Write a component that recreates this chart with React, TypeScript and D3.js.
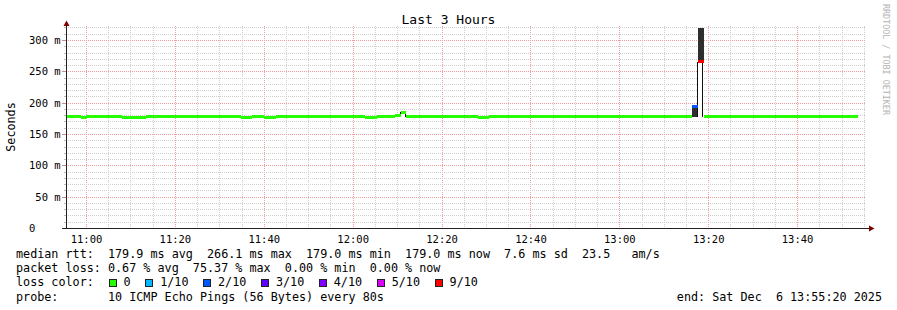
import React from "react";
import * as d3 from "d3";

const W = 897;
const H = 310;
const DAY = "2025-12-06 ";
const START = "10:55:20";
const END = "13:55:20";

const xTickLabels = ["11:00", "11:20", "11:40", "12:00", "12:20", "12:40", "13:00", "13:20", "13:40"];
const yTickValues = [0, 50, 100, 150, 200, 250, 300];
const yTickLabels = ["0", " 50 m", "100 m", "150 m", "200 m", "250 m", "300 m"];

// median rtt (ms) as a step series: each value holds from its time until the next time
const medianTimes = [
  "10:55:20", "10:58:40", "11:00:00", "11:08:00", "11:13:20", "11:34:40", "11:37:20",
  "11:40:00", "11:42:40", "12:02:40", "12:05:20", "12:09:20", "12:10:40", "12:12:00",
  "12:28:00", "12:30:40", "13:16:10", "13:17:30", "13:18:50", "13:53:30",
];
const medianValues = [
  179.3, 177.8, 179.3, 177.8, 179.3, 177.8, 179.3,
  177.8, 179.3, 177.8, 179.3, 180.5, 185.1, 179.3,
  177.8, 179.3, 194.7, 266.1, 179.3, NaN,
];
// lost pings out of 10 for each step
const medianLoss = [0, 0, 0, 0, 0, 0, 0, 0, 0, 0, 0, 0, 0, 0, 0, 0, 2, 9, 0, 0];

// smoke (ping spread) boxes
const smokeStart = ["13:16:10", "13:17:30"];
const smokeEnd = ["13:17:30", "13:18:50"];
const smokeLow = [178.2, 266.1];
const smokeHigh = [197.0, 320.4];

// outlined bands under the median spikes
const bandStart = ["12:10:40", "13:17:30"];
const bandEnd = ["12:12:00", "13:18:50"];
const bandLow = [177.9, 177.9];
const bandHigh = [186.5, 266.1];

const lossLabels = ["0", "1/10", "2/10", "3/10", "4/10", "5/10", "9/10"];
const lossColors = ["#26ff00", "#00b8ff", "#0059ff", "#5e00ff", "#7e00ff", "#dd00ff", "#ff0000"];
const lossIndex = [0, 1, 2, 3, 4, 5, 9];

const legendRows = [
  "median rtt:  179.9 ms avg  266.1 ms max  179.0 ms min  179.0 ms now  7.6 ms sd  23.5   am/s",
  "packet loss: 0.67 % avg  75.37 % max  0.00 % min  0.00 % now",
  "loss color:",
  "probe:       10 ICMP Echo Pings (56 Bytes) every 80s",
];
const endLabel = "end: Sat Dec  6 13:55:20 2025";
const title = "Last 3 Hours";
const yTitle = "Seconds";
const watermark = "RRDTOOL / TOBI OETIKER";

const parse = d3.utcParse("%Y-%m-%d %H:%M:%S");
const T = (s: string) => parse(DAY + s) as Date;

const MONO = "'DejaVu Sans Mono', monospace";
const px = (v: number) => Math.floor(v) + 0.5;

export default function App() {
  const x = d3.scaleUtc().domain([T(START), T(END)]).range([65.75, 865.75]);
  const y = d3.scaleLinear().domain([0, 300]).range([228.5, 40.5]);
  const plotTop = 26;
  const plotLeft = 66;
  const plotRight = 866;
  const axisY = 228.5;
  const axisX = 66.5;

  const colorForLoss = (l: number) => {
    let c = lossColors[0];
    lossIndex.forEach((li, i) => {
      if (l >= li) c = lossColors[i];
    });
    return c;
  };

  const minorTimes = d3.utcMinute.every(5)!.range(T(START), T(END));
  const hVals = d3.range(10, 330, 10);
  const xTickDates = xTickLabels.map((s) => T(s + ":00"));

  const fmtMin = d3.utcFormat("%M");

  const cw = 7.07;
  const rowY = [258, 272.2, 286.4, 300.6];
  let sx = 108.5;
  const swatches = lossLabels.map((lab, i) => {
    const cur = sx;
    sx = sx + 15 + lab.length * cw + 14.6;
    return { lab, color: lossColors[i], x: cur };
  });

  return (
    <svg width={W} height={H} style={{ display: "block", position: "absolute", left: 0, top: 0, background: "#fff" }}>
      <rect x={0} y={0} width={W} height={H} fill="#fff" />
      {/* minor vertical grid */}
      {minorTimes.map((t, i) => {
        const major = +fmtMin(t) % 20 === 0;
        return (
          <line key={"v" + i} x1={px(x(t))} x2={px(x(t))} y1={plotTop} y2={axisY}
            stroke={major ? "#f29c9c" : "#cfcfcf"} strokeDasharray="1,1" shapeRendering="crispEdges" />
        );
      })}
      {/* horizontal grid */}
      {hVals.map((v, i) => {
        const major = v % 50 === 0;
        const yy = Math.round(y(v) - 0.5) + 0.5;
        return (
          <g key={"h" + i}>
            <line x1={plotLeft} x2={plotRight} y1={yy} y2={yy}
              stroke={major ? "#f29c9c" : "#cfcfcf"} strokeDasharray="1,1" shapeRendering="crispEdges" />
            <line x1={major ? 62 : 64} x2={66} y1={yy} y2={yy}
              stroke={major ? "#e08080" : "#bdbdbd"} shapeRendering="crispEdges" />
          </g>
        );
      })}

      {/* smoke */}
      {smokeStart.map((s, i) => (
        <rect key={"s" + i} x={x(T(s))} width={x(T(smokeEnd[i])) - x(T(s))}
          y={y(smokeHigh[i])} height={y(smokeLow[i]) - y(smokeHigh[i])}
          fill="#2e2e2e" shapeRendering="crispEdges" />
      ))}
      {/* bands */}
      {bandStart.map((s, i) => {
        const x1 = x(T(s));
        const x2 = x(T(bandEnd[i]));
        const y1 = y(bandHigh[i]);
        const y2 = y(bandLow[i]);
        return (
          <g key={"b" + i}>
            <rect x={x1} width={x2 - x1} y={y1} height={y2 - y1} fill="#fff" shapeRendering="crispEdges" />
            <line x1={px(x1)} x2={px(x1)} y1={y1} y2={y2} stroke="#111" shapeRendering="crispEdges" />
            <line x1={px(x2) - 1} x2={px(x2) - 1} y1={y1} y2={y2} stroke="#111" shapeRendering="crispEdges" />
          </g>
        );
      })}
      {/* median line segments */}
      {medianTimes.slice(0, -1).map((s, i) => {
        const v = medianValues[i];
        if (!isFinite(v)) return null;
        const x1 = x(T(s));
        const x2 = x(T(medianTimes[i + 1]));
        return (
          <line key={"m" + i} x1={x1} x2={x2} y1={y(v)} y2={y(v)}
            stroke={colorForLoss(medianLoss[i])} strokeWidth={3} shapeRendering="crispEdges" />
        );
      })}

      {/* axes */}
      <line x1={axisX} x2={axisX} y1={axisY} y2={plotTop - 1} stroke="#222" shapeRendering="crispEdges" />
      <line x1={62} x2={869} y1={axisY} y2={axisY} stroke="#222" shapeRendering="crispEdges" />
      <path d={`M${axisX - 3},${plotTop} L${axisX + 3},${plotTop} L${axisX},${plotTop - 5.5} Z`} fill="#7f0000" />
      <path d={`M869,${axisY - 3} L869,${axisY + 3} L874.5,${axisY} Z`} fill="#7f0000" />

      {/* y labels */}
      {yTickValues.map((v, i) => (
        <text key={"yl" + i} x={29} y={Math.round(y(v) - 0.5) + 0.5 + 3.8} fontFamily={MONO} fontSize={10.5}
          fill="#000" style={{ whiteSpace: "pre" }}>{yTickLabels[i]}</text>
      ))}
      {/* x labels */}
      {xTickDates.map((t, i) => (
        <text key={"xl" + i} x={x(t)} y={243} fontFamily={MONO} fontSize={10.5} textAnchor="middle" fill="#000">
          {xTickLabels[i]}
        </text>
      ))}

      {/* title */}
      <text x={448.5} y={24} fontFamily={MONO} fontSize={13} textAnchor="middle" fill="#000">{title}</text>
      <text transform="translate(15,127) rotate(-90)" fontFamily={MONO} fontSize={11.75} textAnchor="middle" fill="#000">{yTitle}</text>
      <text transform="translate(883,4) rotate(90)" fontFamily={MONO} fontSize={8.4} fill="#b4b4b4">{watermark}</text>

      {/* legend */}
      {legendRows.map((r, i) => (
        <text key={"lg" + i} x={16} y={rowY[i]} fontFamily={MONO} fontSize={11.75} fill="#000" style={{ whiteSpace: "pre" }}>{r}</text>
      ))}
      {swatches.map((s, i) => (
        <g key={"sw" + i}>
          <rect x={Math.round(s.x) + 0.5} y={279.5} width={7} height={7} fill={s.color} stroke="#222" shapeRendering="crispEdges" />
          <text x={s.x + 15} y={rowY[2]} fontFamily={MONO} fontSize={11.75} fill="#000">{s.lab}</text>
        </g>
      ))}
      <text x={882} y={rowY[3]} fontFamily={MONO} fontSize={11.75} textAnchor="end" fill="#000" style={{ whiteSpace: "pre" }}>{endLabel}</text>
    </svg>
  );
}
